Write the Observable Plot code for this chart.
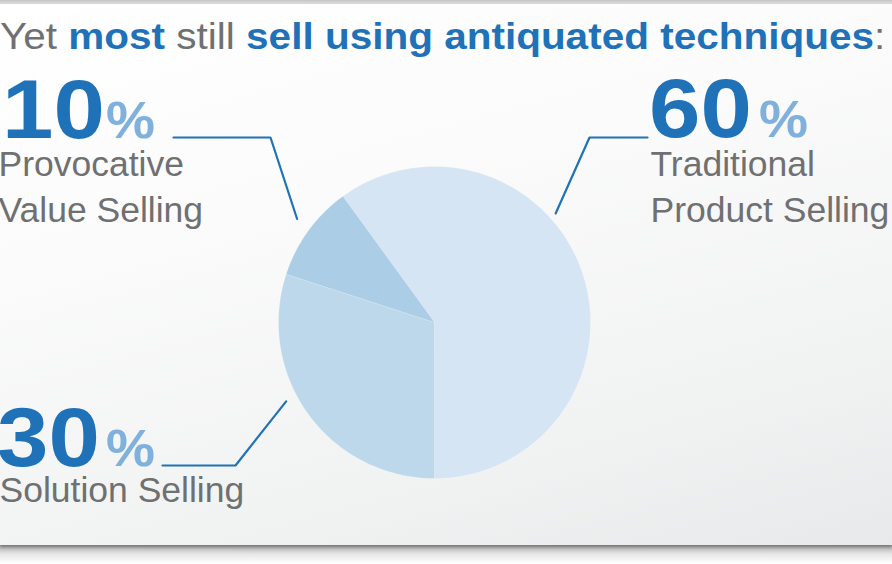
<!DOCTYPE html>
<html>
<head>
<meta charset="utf-8">
<script src="https://cdn.jsdelivr.net/npm/d3@7"></script>
<script src="https://cdn.jsdelivr.net/npm/@observablehq/plot@0.6"></script>
<style>
  html, body { margin: 0; padding: 0; background: #ffffff; }
  #wrap { position: relative; width: 892px; height: 564px; overflow: hidden; font-family: "Liberation Sans", Arial, sans-serif; }
  #topshade { position: absolute; left: 0; top: 0; width: 892px; height: 6px;
    background: linear-gradient(to bottom, #c4c4c4, #efefef); }
  #under { position: absolute; left: 0; top: 540px; width: 892px; height: 24px;
    background: linear-gradient(to bottom, #9a9a9a 0px, #bdbdbd 8px, #e6e6e6 14px, #ffffff 24px); }
  #card { position: absolute; left: 0; top: 4px; width: 892px; height: 541px;
    background: linear-gradient(165deg, #ffffff 0%, #fbfbfb 35%, #f1f2f2 75%, #e8e9ea 100%);
    box-shadow: 0 2px 3px rgba(0,0,0,0.35); }
  #title { position: absolute; left: 0px; top: 16px; font-size: 36px; color: #6f7072; white-space: nowrap;
    transform: scaleX(1.125); transform-origin: 0 0; }
  #title b { color: #1f72b8; font-weight: bold; }
  #chart { position: absolute; left: 0; top: 0; }
</style>
</head>
<body>
<div id="wrap">
  <div id="under"></div>
  <div id="topshade"></div>
  <div id="card"></div>
  <div id="title">Yet <b>most</b> still <b>sell using antiquated techniques</b>:</div>
  <div id="chart"></div>
</div>
<script>
// ---- data ----
const categories = ["Traditional Product Selling", "Solution Selling", "Provocative Value Selling"];
const shares = [60, 30, 10];
const labelLines = [["Traditional", "Product Selling"], ["Solution Selling"], ["Provocative", "Value Selling"]];
const sliceColors = ["#d5e5f3", "#bdd8ea", "#abcde5"];

// ---- layout (positions/styles only) ----
const W = 892, H = 564;
const pie = {cx: 434, cy: 322, r: 156, startDeg: -36};
const numScale = 1.1, pctScale = 1.08;
const labelLayout = [
  {x: 649, labelX: 650, numY: 137, labelY: 221, pctX: 759, lineFrom: 647, elbowX: 589, elbowY: 137, angle: 48, reach: 163},
  {x: -3,  labelX: -1,  numY: 466, labelY: 501, pctX: 106, lineFrom: 162, elbowX: 235, elbowY: 465, angle: 242, reach: 168},
  {x: 2,   labelX: -2,  numY: 138, labelY: 221, pctX: 106, lineFrom: 173, elbowX: 270, elbowY: 137, angle: 307, reach: 172}
];

// ---- slice polygons ----
const arcs = d3.pie().sort(null)
  .startAngle(pie.startDeg * Math.PI / 180)
  .endAngle(pie.startDeg * Math.PI / 180 + 2 * Math.PI)(shares);
const slicePts = [];
arcs.forEach((a, i) => {
  const cat = categories[i];
  slicePts.push({cat, x: pie.cx, y: pie.cy});
  const n = Math.max(2, Math.ceil((a.endAngle - a.startAngle) / (Math.PI / 180)));
  for (let k = 0; k <= n; k++) {
    const t = a.startAngle + (a.endAngle - a.startAngle) * k / n;
    slicePts.push({cat, x: pie.cx + pie.r * Math.sin(t), y: pie.cy - pie.r * Math.cos(t)});
  }
});

// ---- leaders ----
const leaderPts = [];
labelLayout.forEach((L, i) => {
  const t = L.angle * Math.PI / 180;
  leaderPts.push({cat: categories[i], x: L.lineFrom, y: L.elbowY});
  leaderPts.push({cat: categories[i], x: L.elbowX, y: L.elbowY});
  leaderPts.push({cat: categories[i], x: pie.cx + L.reach * Math.sin(t), y: pie.cy - L.reach * Math.cos(t)});
});

// big numerals are drawn in a horizontally widened group; x is pre-divided so they land where intended
const labels = categories.map((c, i) => ({
  cat: c,
  num: String(shares[i]),
  text: labelLines[i].join("\n"),
  numX: labelLayout[i].x / numScale,
  pctX: labelLayout[i].pctX / pctScale,
  labelX: labelLayout[i].labelX,
  numY: labelLayout[i].numY,
  labelY: labelLayout[i].labelY
}));

const chart = Plot.plot({
  width: W, height: H,
  margin: 0,
  x: {domain: [0, W], range: [0, W], axis: null},
  y: {domain: [0, H], range: [0, H], axis: null},
  color: {domain: categories, range: sliceColors, legend: false},
  style: {background: "transparent", overflow: "visible"},
  marks: [
    Plot.line(slicePts, {x: "x", y: "y", z: "cat", fill: "cat", stroke: "#ffffff", strokeOpacity: 0.2, strokeWidth: 1, curve: "linear"}),
    Plot.line(leaderPts, {x: "x", y: "y", z: "cat", stroke: "#1f72b8", strokeWidth: 2.2, strokeLinejoin: "miter"}),
    Plot.text(labels, {x: "numX", y: "numY", text: "num", textAnchor: "start", lineAnchor: "bottom",
      fontFamily: "Liberation Sans, Arial, sans-serif", fontWeight: "bold", fontSize: 84, fill: "#1f72b8", letterSpacing: "0.5px"}),
    Plot.text(labels, {x: "pctX", y: "numY", text: () => "%", textAnchor: "start", lineAnchor: "bottom",
      fontFamily: "Liberation Sans, Arial, sans-serif", fontWeight: "bold", fontSize: 51, fill: "#7fb1dc"}),
    Plot.text(labels, {x: "labelX", y: "labelY", text: "text", textAnchor: "start", lineAnchor: "bottom",
      lineHeight: 1.27, fontFamily: "Liberation Sans, Arial, sans-serif", fontSize: 35.5, fill: "#6f7072"})
  ]
});

// widen the numeral and percent groups (the reference uses an extended heavy face)
const textGroups = chart.querySelectorAll('g[aria-label="text"]');
if (textGroups.length >= 2) {
  textGroups[0].setAttribute("transform", `scale(${numScale},1)`);
  textGroups[1].setAttribute("transform", `scale(${pctScale},1)`);
}

document.getElementById("chart").appendChild(chart);
</script>
</body>
</html>
